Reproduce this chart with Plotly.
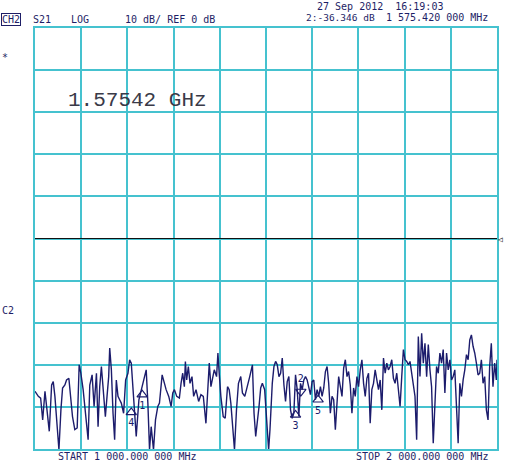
import plotly.graph_objects as go

# ===== Colours =====
GRID = "#45C2CF"
TRACE = "#1C1C6C"
TEXT_NAVY = "#1E1E66"
BIG_TEXT = "#3A3A48"
MONO = "DejaVu Sans Mono, Liberation Mono, monospace"

# ===== S21 trace (MHz / dB) =====
freq_mhz = [
    1000, 1007.2, 1012.2, 1016.6, 1021.6, 1025.2, 1030.9, 1036.0, 1039.5, 1043.1,
    1048.2, 1051.8, 1056.1, 1059.7, 1064.7, 1068.3, 1073.3, 1076.9, 1081.2, 1086.2,
    1091.3, 1095.6, 1099.2, 1104.2, 1109.2, 1115.0, 1118.6, 1123.6, 1127.9, 1133.0,
    1136.5, 1140.1, 1143.7, 1147.3, 1152.3, 1155.9, 1159.5, 1161.7, 1165.3, 1168.9,
    1172.4, 1176.0, 1179.6, 1183.2, 1186.8, 1191.8, 1196.2, 1201.2, 1204.8, 1208.4,
    1212.0, 1215.5, 1219.1, 1224.9, 1229.9, 1235.0, 1240.7, 1244.3, 1247.9, 1251.5,
    1256.5, 1260.8, 1265.8, 1269.4, 1275.2, 1280.2, 1283.8, 1289.5, 1294.6, 1298.2,
    1301.8, 1306.8, 1312.5, 1316.1, 1319.7, 1323.3, 1325.5, 1328.3, 1331.9, 1335.5,
    1339.8, 1343.4, 1348.5, 1354.2, 1359.2, 1364.3, 1370.0, 1373.6, 1377.2, 1380.8,
    1384.4, 1388.0, 1393.0, 1395.9, 1398.7, 1402.3, 1407.4, 1411.7, 1416.7, 1420.3,
    1423.9, 1427.5, 1431.8, 1436.1, 1440.4, 1445.4, 1449.0, 1454.1, 1459.8, 1464.8,
    1470.6, 1474.1, 1477.7, 1481.3, 1484.9, 1488.5, 1492.1, 1497.1, 1501.4, 1505.7,
    1508.6, 1513.6, 1517.2, 1520.8, 1524.4, 1528.0, 1531.6, 1535.2, 1538.8, 1542.3,
    1545.9, 1549.5, 1553.1, 1556.7, 1560.3, 1563.9, 1567.5, 1571.1, 1574.7, 1578.3,
    1581.9, 1585.5, 1589.0, 1592.6, 1596.2, 1599.8, 1603.4, 1607.0, 1610.6, 1614.2,
    1617.8, 1621.4, 1625.0, 1628.6, 1632.2, 1635.7, 1639.3, 1642.9, 1646.5, 1650.1,
    1653.7, 1657.3, 1660.9, 1664.5, 1668.1, 1671.7, 1675.3, 1678.8, 1682.4, 1686.0,
    1689.6, 1693.2, 1696.8, 1700.4, 1704.0, 1707.6, 1711.2, 1714.8, 1718.4, 1721.9,
    1725.5, 1729.1, 1732.7, 1736.3, 1739.9, 1743.5, 1747.1, 1750.7, 1754.3, 1757.9,
    1761.5, 1765.0, 1768.6, 1772.2, 1775.8, 1779.4, 1783.0, 1786.6, 1790.2, 1793.8,
    1797.4, 1801.0, 1804.6, 1808.2, 1811.7, 1815.3, 1818.9, 1822.5, 1826.1, 1829.7,
    1833.3, 1836.9, 1840.5, 1844.1, 1847.7, 1851.3, 1854.9, 1858.4, 1862.0, 1865.6,
    1869.2, 1872.8, 1876.4, 1880.0, 1883.6, 1887.2, 1890.8, 1894.4, 1898.0, 1901.6,
    1905.1, 1908.7, 1912.3, 1915.9, 1919.5, 1923.1, 1926.7, 1930.3, 1933.9, 1937.5,
    1941.1, 1944.6, 1948.2, 1951.8, 1955.4, 1959.0, 1962.6, 1966.2, 1969.8, 1973.4,
    1977.0, 1980.6, 1984.1, 1987.7, 1991.3, 1994.9, 1998.5, 2000,
]
s21_db = [
    -36.3, -37.5, -37.9, -43.1, -36.3, -39.9, -45.8, -34.8, -34.0, -37.5,
    -45.4, -50.2, -40.7, -35.5, -34.8, -33.6, -33.2, -36.7, -42.3, -45.4,
    -45.0, -30.0, -32.0, -35.9, -40.7, -47.8, -34.8, -32.4, -39.9, -32.0,
    -44.7, -35.2, -30.4, -35.9, -42.3, -37.5, -32.8, -26.0, -31.2, -41.5,
    -47.8, -33.6, -37.5, -38.3, -39.1, -41.5, -33.6, -32.0, -28.8, -29.6,
    -35.2, -42.3, -47.0, -38.3, -35.9, -33.2, -31.2, -39.1, -50.2, -44.7,
    -50.2, -43.1, -39.9, -39.1, -32.4, -34.4, -35.9, -37.5, -39.9, -36.7,
    -35.9, -37.5, -37.9, -34.4, -32.0, -35.2, -29.2, -33.6, -30.4, -34.4,
    -32.8, -37.5, -35.9, -38.7, -37.1, -37.5, -43.9, -36.7, -29.6, -35.2,
    -32.8, -31.2, -32.8, -27.2, -32.0, -37.5, -42.3, -42.7, -35.2, -35.9,
    -39.1, -43.9, -50.2, -40.7, -34.4, -32.8, -36.7, -37.5, -35.2, -32.8,
    -30.0, -41.5, -47.0, -43.9, -39.9, -35.5, -34.4, -35.9, -43.9, -50.2,
    -45.4, -34.4, -30.4, -29.2, -30.0, -32.8, -32.0, -28.4, -34.8, -38.7,
    -34.0, -32.8, -40.7, -42.7, -41.5, -32.4, -35.9, -42.3, -34.4, -35.9,
    -33.6, -32.8, -33.6, -35.2, -37.1, -34.0, -33.6, -38.3, -35.9, -37.5,
    -35.2, -37.5, -35.5, -31.6, -30.4, -34.4, -41.5, -37.5, -38.3, -45.4,
    -38.3, -32.8, -35.2, -37.5, -30.8, -28.8, -32.8, -31.6, -34.8, -41.5,
    -35.5, -37.5, -32.8, -35.2, -31.2, -28.8, -34.4, -37.5, -33.2, -32.0,
    -43.9, -35.9, -34.4, -31.2, -33.6, -35.9, -33.6, -40.7, -28.4, -32.0,
    -29.6, -31.2, -30.4, -28.8, -33.2, -34.4, -32.0, -37.1, -39.9, -32.8,
    -26.4, -28.8, -29.2, -30.0, -29.2, -32.0, -34.4, -37.5, -47.8, -23.3,
    -32.8, -22.5, -29.6, -24.9, -32.8, -25.2, -31.2, -35.2, -48.6, -38.3,
    -30.4, -32.0, -27.2, -29.6, -26.4, -36.7, -27.2, -31.2, -28.8, -33.6,
    -32.8, -31.2, -41.5, -48.6, -34.4, -37.5, -33.6, -31.2, -27.6, -28.8,
    -24.1, -22.9, -25.6, -27.2, -29.6, -32.4, -32.0, -28.8, -34.4, -32.8,
    -40.7, -43.1, -30.4, -24.9, -35.2, -29.6, -33.6, -28.8,
]

# ===== Markers =====
marker_labels = ["1", "2", "3", "4", "5"]
marker_freq = [1232.0, 1575.42, 1563.9, 1208.4, 1612.8]
marker_db = [-37.1, -36.346, -41.9, -41.3, -38.3]

START_MHZ, STOP_MHZ = 1000, 2000
REF_DB, DB_PER_DIV = 0, 10

# plot area in the 510x461 window
L, R, T, B = 35, 499, 28, 449
W_FIG, H_FIG = 510, 461


def paper(x, y):
    return (x - L) / (R - L), (B - y) / (B - T)


fig = go.Figure()

fig.add_trace(go.Scatter(
    x=freq_mhz, y=s21_db, mode="lines",
    line=dict(color=TRACE, width=1.4), hoverinfo="skip", showlegend=False,
))

# marker 2 is the active one (drawn pointing down, label above)
for lab, f, v in zip(marker_labels, marker_freq, marker_db):
    active = lab == "2"
    fig.add_trace(go.Scatter(
        x=[f], y=[v], mode="markers+text", text=[lab],
        textposition="top center" if active else "bottom center",
        textfont=dict(family=MONO, size=10, color=TRACE),
        marker=dict(symbol="triangle-down-open" if active else "triangle-up-open",
                    size=9, color=TRACE, line=dict(width=1.2, color=TRACE)),
        hoverinfo="skip", showlegend=False,
    ))

# reference line
fig.add_shape(type="line", xref="paper", yref="y", x0=0, x1=1, y0=REF_DB, y1=REF_DB,
              line=dict(color="#111111", width=1.2))

annots = []


def txt(text, x, y, size=10, color=TEXT_NAVY, xanchor="left", family=MONO, **kw):
    px_, py_ = paper(x, y)
    annots.append(dict(text=text, x=px_, y=py_, xref="paper", yref="paper",
                       xanchor=xanchor, yanchor="middle", showarrow=False,
                       font=dict(family=family, size=size, color=color), **kw))


txt("CH2", 1, 20, borderwidth=1, bordercolor=TEXT_NAVY, borderpad=0)
txt("S21", 31, 20)
txt("LOG", 69, 20)
txt("10 dB/ REF 0 dB", 123, 20)
txt("27 Sep 2012  16:19:03", 316, 6)
txt("2:-36.346 dB", 305, 18, size=9.5)
txt("1 575.420 000 MHz", 386, 18)
txt("*", 0, 57)
txt("C2", 0, 310)
txt("1.57542 GHz", 66, 100, size=21, color=BIG_TEXT, family="Liberation Mono, DejaVu Sans Mono, monospace")
txt("START 1 000.000 000 MHz", 56, 456)
txt("STOP 2 000.000 000 MHz", 355, 456)
txt("◁", 498, 239, size=8, color="#111111")

axis_common = dict(
    showgrid=True, gridcolor=GRID, gridwidth=1.5, zeroline=False,
    showline=True, mirror=True, linecolor=GRID, linewidth=1.5,
    showticklabels=False, ticks="", fixedrange=True,
)
fig.update_xaxes(**axis_common, range=[START_MHZ, STOP_MHZ], dtick=(STOP_MHZ - START_MHZ) / 10,
                 tick0=START_MHZ)
fig.update_yaxes(**axis_common, range=[REF_DB - 5 * DB_PER_DIV, REF_DB + 5 * DB_PER_DIV],
                 dtick=DB_PER_DIV, tick0=REF_DB)

fig.update_layout(
    width=W_FIG, height=H_FIG, autosize=False,
    margin=dict(l=L, r=W_FIG - R, t=T, b=H_FIG - B),
    paper_bgcolor="white", plot_bgcolor="white",
    annotations=annots, showlegend=False,
)

# the page's default body margin would push the fixed-size figure off-screen
fig.write_html("out.html", config={"displayModeBar": False},
               post_script="document.body.style.margin='0';document.body.style.overflow='hidden';")
